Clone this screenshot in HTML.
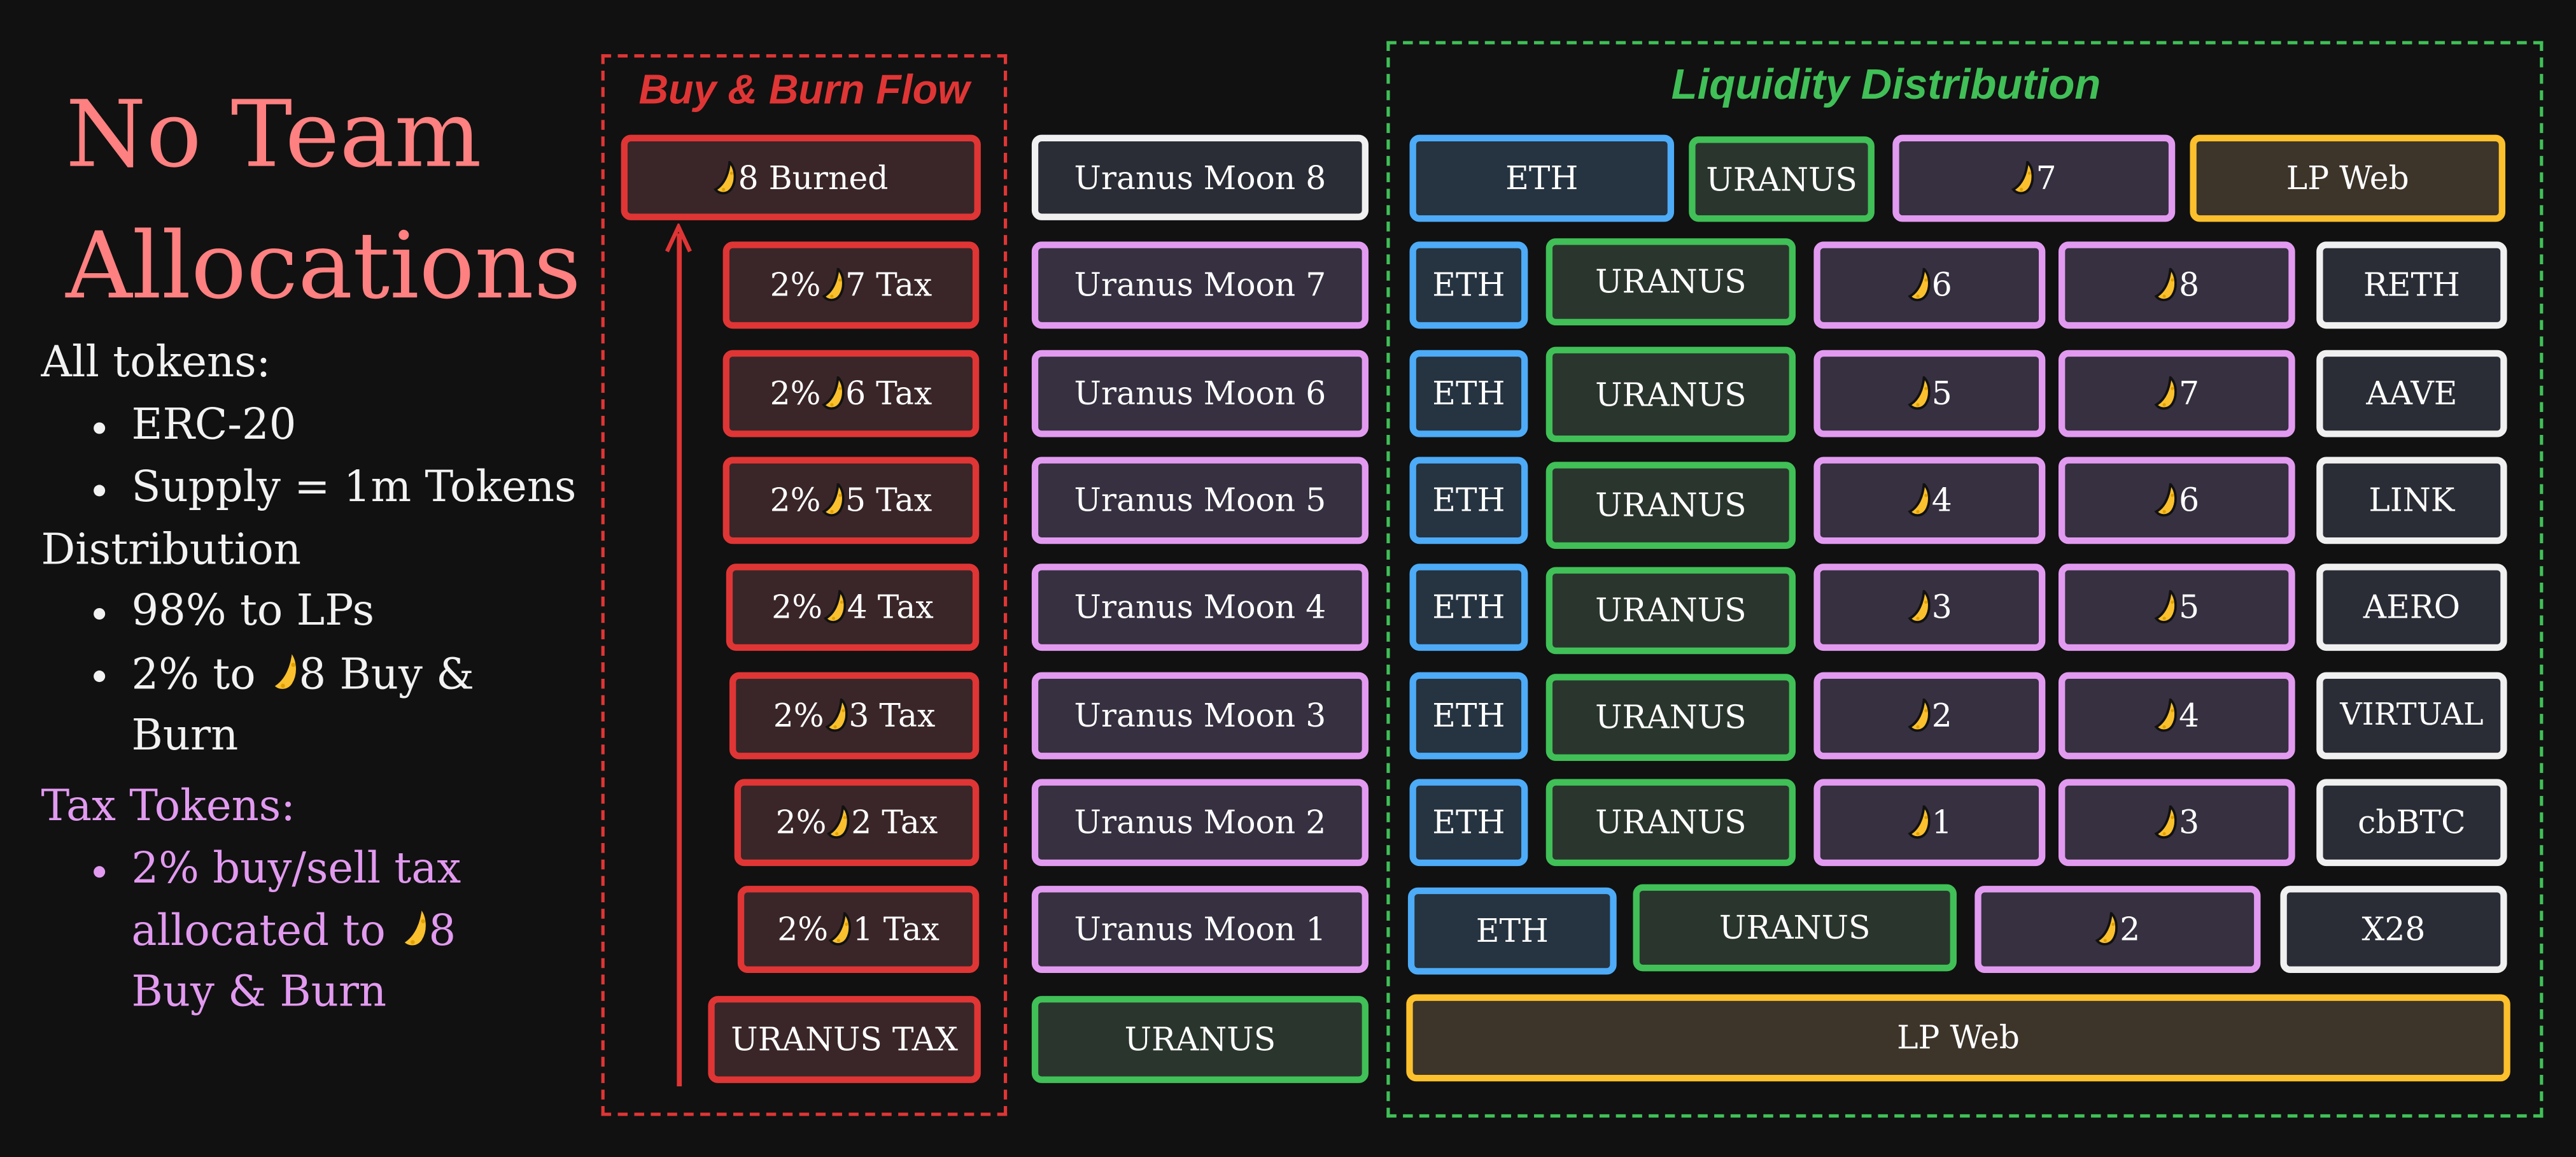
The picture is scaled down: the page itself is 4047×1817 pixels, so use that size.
<!DOCTYPE html>
<html><head><meta charset="utf-8"><style>
html,body{margin:0;padding:0;background:#111111;}
body{width:4047px;height:1817px;overflow:hidden;position:relative;}
#w{position:absolute;left:0;top:0;width:1568px;height:704px;transform:scale(2.581);transform-origin:0 0;}
.b{position:absolute;box-sizing:border-box;border:4px solid;border-radius:6px;display:flex;align-items:center;justify-content:center;font:19.5px "DejaVu Serif",serif;color:#fff;white-space:nowrap;}
.r{border-color:#e03535;background:#3a2628;}
.p{border-color:#e29af0;background:#363040;}
.g{border-color:#40c057;background:#2a362d;}
.bl{border-color:#4dabf7;background:#263340;}
.y{border-color:#fcc02d;background:#3d342a;}
.wt{border-color:#f0f0f0;background:#2a2d35;}
.m{display:inline-block;width:14px;height:21px;vertical-align:-3px;margin:0 1px 0 6px;}
.b>.m:first-child{margin-left:0}
.t{position:absolute;font-family:"DejaVu Serif",serif;white-space:nowrap;}
.l{position:absolute;left:25px;font:26px "DejaVu Serif",serif;color:#f2f2f2;white-space:nowrap;}
.dot{position:absolute;width:7px;height:7px;border-radius:50%;}
</style></head><body><div id="w">
<svg width="0" height="0" style="position:absolute"><defs><symbol id="mn" viewBox="0 0 11 17"><path d="M8 0.5 C7.5 6 5.5 11.5 1 14 C3 16.5 7 16.5 9 13.5 C11.5 9.5 11 3.5 8 0.5Z" fill="#fbc02d" stroke="#111" stroke-width="1.2"/><circle cx="9" cy="6" r="0.8" fill="#e0a000"/><circle cx="5" cy="14" r="0.8" fill="#e0a000"/></symbol></defs></svg>

<div class="t" style="left:40px;top:47px;font-size:56px;color:#ff8080;line-height:72px">No Team</div>
<div class="t" style="left:40px;top:127px;font-size:56px;color:#ff8080;line-height:72px">Allocations</div>

<div class="l" style="top:206px">All tokens:</div>
<div class="dot" style="left:57px;top:257px;background:#f2f2f2"></div><div class="l" style="left:80px;top:244px">ERC-20</div>
<div class="dot" style="left:57px;top:295px;background:#f2f2f2"></div><div class="l" style="left:80px;top:282px">Supply = 1m Tokens</div>
<div class="l" style="top:320px">Distribution</div>
<div class="dot" style="left:57px;top:370px;background:#f2f2f2"></div><div class="l" style="left:80px;top:357px">98% to LPs</div>
<div class="dot" style="left:57px;top:408px;background:#f2f2f2"></div><div class="l" style="left:80px;top:395px">2% to <svg class="m" style="width:18px;height:27px;margin:0"><use href="#mn"/></svg>8 Buy &amp;</div>
<div class="l" style="left:80px;top:433px">Burn</div>
<div class="l" style="top:476px;color:#e29af0">Tax Tokens:</div>
<div class="dot" style="left:57px;top:527px;background:#e29af0"></div><div class="l" style="left:80px;top:514px;color:#e29af0">2% buy/sell tax</div>
<div class="l" style="left:80px;top:551px;color:#e29af0">allocated to <svg class="m" style="width:18px;height:27px;margin:0"><use href="#mn"/></svg>8</div>
<div class="l" style="left:80px;top:589px;color:#e29af0">Buy &amp; Burn</div>

<div style="position:absolute;left:366px;top:33px;width:247px;height:646px;box-sizing:border-box;border:2px dashed #e03535;"></div>
<div class="t" style="left:366px;width:247px;text-align:center;top:41px;font:bold 25px 'Liberation Sans',sans-serif;color:#e03535;font-style:italic">Buy &amp; Burn Flow</div>
<div style="position:absolute;left:844px;top:25px;width:704px;height:655px;box-sizing:border-box;border:2px dashed #40c057;"></div>
<div class="t" style="left:844px;width:608px;text-align:center;top:36px;font:bold 26px 'Liberation Sans',sans-serif;color:#40c057;font-style:italic">Liquidity Distribution</div>

<div style="position:absolute;left:412px;top:142px;width:2.5px;height:519px;background:#e03535"></div>
<svg style="position:absolute;left:403px;top:136px" width="20" height="20"><path d="M3 17 L10 2 L17 17" fill="none" stroke="#e03535" stroke-width="2.5"/></svg>

<div class="b r" style="left:378px;top:82px;width:219px;height:52px"><svg class="m"><use href="#mn"/></svg>8 Burned</div>
<div class="b r" style="left:440px;top:147px;width:156px;height:53px">2%<svg class="m"><use href="#mn"/></svg>7 Tax</div>
<div class="b r" style="left:440px;top:213px;width:156px;height:53px">2%<svg class="m"><use href="#mn"/></svg>6 Tax</div>
<div class="b r" style="left:440px;top:278px;width:156px;height:53px">2%<svg class="m"><use href="#mn"/></svg>5 Tax</div>
<div class="b r" style="left:442px;top:343px;width:154px;height:53px">2%<svg class="m"><use href="#mn"/></svg>4 Tax</div>
<div class="b r" style="left:444px;top:409px;width:152px;height:53px">2%<svg class="m"><use href="#mn"/></svg>3 Tax</div>
<div class="b r" style="left:447px;top:474px;width:149px;height:53px">2%<svg class="m"><use href="#mn"/></svg>2 Tax</div>
<div class="b r" style="left:449px;top:539px;width:147px;height:53px">2%<svg class="m"><use href="#mn"/></svg>1 Tax</div>
<div class="b r" style="left:431px;top:606px;width:166px;height:53px">URANUS TAX</div>

<div class="b wt" style="left:628px;top:82px;width:205px;height:52px">Uranus Moon 8</div>
<div class="b p" style="left:628px;top:147px;width:205px;height:53px">Uranus Moon 7</div>
<div class="b p" style="left:628px;top:213px;width:205px;height:53px">Uranus Moon 6</div>
<div class="b p" style="left:628px;top:278px;width:205px;height:53px">Uranus Moon 5</div>
<div class="b p" style="left:628px;top:343px;width:205px;height:53px">Uranus Moon 4</div>
<div class="b p" style="left:628px;top:409px;width:205px;height:53px">Uranus Moon 3</div>
<div class="b p" style="left:628px;top:474px;width:205px;height:53px">Uranus Moon 2</div>
<div class="b p" style="left:628px;top:539px;width:205px;height:53px">Uranus Moon 1</div>
<div class="b g" style="left:628px;top:606px;width:205px;height:53px">URANUS</div>

<div class="b bl" style="left:858px;top:82px;width:161px;height:53px">ETH</div>
<div class="b g" style="left:1028px;top:83px;width:113px;height:52px">URANUS</div>
<div class="b p" style="left:1152px;top:82px;width:172px;height:53px"><svg class="m"><use href="#mn"/></svg>7</div>
<div class="b y" style="left:1333px;top:82px;width:192px;height:53px">LP Web</div>

<div class="b bl" style="left:858px;top:147px;width:72px;height:53px">ETH</div>
<div class="b g" style="left:941px;top:145px;width:152px;height:53px">URANUS</div>
<div class="b p" style="left:1104px;top:147px;width:141px;height:53px"><svg class="m"><use href="#mn"/></svg>6</div>
<div class="b p" style="left:1253px;top:147px;width:144px;height:53px"><svg class="m"><use href="#mn"/></svg>8</div>
<div class="b wt" style="left:1410px;top:147px;width:116px;height:53px">RETH</div>

<div class="b bl" style="left:858px;top:213px;width:72px;height:53px">ETH</div>
<div class="b g" style="left:941px;top:211px;width:152px;height:58px">URANUS</div>
<div class="b p" style="left:1104px;top:213px;width:141px;height:53px"><svg class="m"><use href="#mn"/></svg>5</div>
<div class="b p" style="left:1253px;top:213px;width:144px;height:53px"><svg class="m"><use href="#mn"/></svg>7</div>
<div class="b wt" style="left:1410px;top:213px;width:116px;height:53px">AAVE</div>

<div class="b bl" style="left:858px;top:278px;width:72px;height:53px">ETH</div>
<div class="b g" style="left:941px;top:281px;width:152px;height:53px">URANUS</div>
<div class="b p" style="left:1104px;top:278px;width:141px;height:53px"><svg class="m"><use href="#mn"/></svg>4</div>
<div class="b p" style="left:1253px;top:278px;width:144px;height:53px"><svg class="m"><use href="#mn"/></svg>6</div>
<div class="b wt" style="left:1410px;top:278px;width:116px;height:53px">LINK</div>

<div class="b bl" style="left:858px;top:343px;width:72px;height:53px">ETH</div>
<div class="b g" style="left:941px;top:345px;width:152px;height:53px">URANUS</div>
<div class="b p" style="left:1104px;top:343px;width:141px;height:53px"><svg class="m"><use href="#mn"/></svg>3</div>
<div class="b p" style="left:1253px;top:343px;width:144px;height:53px"><svg class="m"><use href="#mn"/></svg>5</div>
<div class="b wt" style="left:1410px;top:343px;width:116px;height:53px">AERO</div>

<div class="b bl" style="left:858px;top:409px;width:72px;height:53px">ETH</div>
<div class="b g" style="left:941px;top:410px;width:152px;height:53px">URANUS</div>
<div class="b p" style="left:1104px;top:409px;width:141px;height:53px"><svg class="m"><use href="#mn"/></svg>2</div>
<div class="b p" style="left:1253px;top:409px;width:144px;height:53px"><svg class="m"><use href="#mn"/></svg>4</div>
<div class="b wt" style="left:1410px;top:409px;width:116px;height:53px;font-size:18.5px">VIRTUAL</div>

<div class="b bl" style="left:858px;top:474px;width:72px;height:53px">ETH</div>
<div class="b g" style="left:941px;top:474px;width:152px;height:53px">URANUS</div>
<div class="b p" style="left:1104px;top:474px;width:141px;height:53px"><svg class="m"><use href="#mn"/></svg>1</div>
<div class="b p" style="left:1253px;top:474px;width:144px;height:53px"><svg class="m"><use href="#mn"/></svg>3</div>
<div class="b wt" style="left:1410px;top:474px;width:116px;height:53px">cbBTC</div>

<div class="b bl" style="left:857px;top:540px;width:127px;height:53px">ETH</div>
<div class="b g" style="left:994px;top:538px;width:197px;height:53px">URANUS</div>
<div class="b p" style="left:1202px;top:539px;width:174px;height:53px"><svg class="m"><use href="#mn"/></svg>2</div>
<div class="b wt" style="left:1388px;top:539px;width:138px;height:53px">X28</div>

<div class="b y" style="left:856px;top:605px;width:672px;height:53px">LP Web</div>
</div></body></html>
